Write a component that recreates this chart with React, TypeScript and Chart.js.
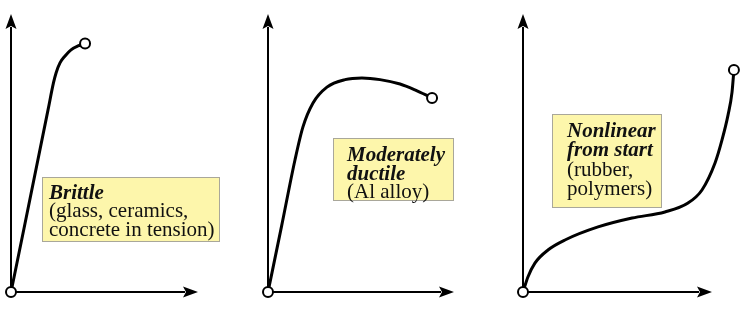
import React, { useEffect, useRef } from "react";
import { Chart, registerables } from "chart.js";

Chart.register(...registerables);

// ---- Data (strain x, stress y; arbitrary units, axis arrows end at 100) ----
const BRITTLE_X = [0, 7.0, 19.8, 22.7, 24.1, 26.2, 28.9, 32.1, 35.8, 39.6];
const BRITTLE_Y = [0, 23.0, 65.5, 75.2, 78.8, 82.4, 84.9, 87.1, 88.5, 89.4];

const DUCTILE_X = [0, 7.3, 14.5, 18.8, 24.2, 31.7, 41.4, 50.5, 60.2, 71.0, 79.0, 88.2];
const DUCTILE_Y = [0, 23.7, 47.5, 59.4, 68.0, 73.7, 76.4, 77.0, 76.4, 74.8, 72.7, 69.8];

const RUBBER_X = [0, 2.6, 6.3, 13.2, 22.2, 39.7, 57.7, 75.1, 87.3, 94.7, 101.6, 105.3, 108.5, 110.6, 111.6];
const RUBBER_Y = [0, 5.4, 10.4, 15.1, 18.7, 23.4, 26.6, 28.8, 32.0, 36.7, 46.4, 54.7, 63.7, 71.9, 79.9];

const BRITTLE_LABEL = [
  { text: "Brittle", strong: true },
  { text: "(glass, ceramics,", strong: false },
  { text: "concrete in tension)", strong: false },
];
const DUCTILE_LABEL = [
  { text: "Moderately", strong: true },
  { text: "ductile", strong: true },
  { text: "(Al alloy)", strong: false },
];
const RUBBER_LABEL = [
  { text: "Nonlinear", strong: true },
  { text: "from start", strong: true },
  { text: "(rubber,", strong: false },
  { text: "polymers)", strong: false },
];

const AXIS_END = 100; // where the axis arrows point, in data units
const X_MAX = 115;
const Y_MAX = 100;

// ---- Layout (pixels) ----
type Box = { x: number; y: number; w: number; h: number; padX: number; first: number; gap: number };
type Panel = {
  left: number;
  width: number;
  originX: number; // y-axis position inside the canvas
  arrowLen: number; // x-axis arrow length in px
  xs: number[];
  ys: number[];
  label: { text: string; strong: boolean }[];
  box: Box;
};

const PANELS: Panel[] = [
  {
    left: 0,
    width: 248,
    originX: 11,
    arrowLen: 187,
    xs: BRITTLE_X,
    ys: BRITTLE_Y,
    label: BRITTLE_LABEL,
    box: { x: 42, y: 177, w: 178, h: 65, padX: 7, first: 22, gap: 18.4 },
  },
  {
    left: 248,
    width: 248,
    originX: 20,
    arrowLen: 186,
    xs: DUCTILE_X,
    ys: DUCTILE_Y,
    label: DUCTILE_LABEL,
    box: { x: 85, y: 138, w: 121, h: 63, padX: 14, first: 23, gap: 18.5 },
  },
  {
    left: 496,
    width: 247,
    originX: 27,
    arrowLen: 189,
    xs: RUBBER_X,
    ys: RUBBER_Y,
    label: RUBBER_LABEL,
    box: { x: 56, y: 114, w: 110, h: 94, padX: 15, first: 23, gap: 19.3 },
  },
];

const FONT = '"Liberation Serif", "Times New Roman", serif';

const axesPlugin = {
  id: "arrowAxes",
  beforeDatasetsDraw(chart: any) {
    const { ctx } = chart;
    const xs = chart.scales.x;
    const ys = chart.scales.y;
    const left = xs.getPixelForValue(0);
    const bottom = ys.getPixelForValue(0);
    const right = xs.getPixelForValue(AXIS_END);
    const top = ys.getPixelForValue(AXIS_END);
    const head = 15;
    const half = 5.5;
    ctx.save();
    ctx.strokeStyle = "#000";
    ctx.fillStyle = "#000";
    ctx.lineWidth = 2;
    ctx.beginPath();
    ctx.moveTo(left, bottom);
    ctx.lineTo(right - head + 2, bottom);
    ctx.moveTo(left, bottom);
    ctx.lineTo(left, top + head - 2);
    ctx.stroke();
    ctx.beginPath();
    ctx.moveTo(right, bottom);
    ctx.lineTo(right - head, bottom - half);
    ctx.lineTo(right - head + 3, bottom);
    ctx.lineTo(right - head, bottom + half);
    ctx.closePath();
    ctx.fill();
    ctx.beginPath();
    ctx.moveTo(left, top);
    ctx.lineTo(left - half, top + head);
    ctx.lineTo(left, top + head - 3);
    ctx.lineTo(left + half, top + head);
    ctx.closePath();
    ctx.fill();
    ctx.restore();
  },
};

const labelPlugin = {
  id: "labelBox",
  afterDatasetsDraw(chart: any, _args: any, opts: any) {
    const box: Box = opts.box;
    const lines = opts.lines as { text: string; strong: boolean }[];
    if (!box || !lines) return;
    const { ctx } = chart;
    ctx.save();
    ctx.fillStyle = "#fdf6ab";
    ctx.fillRect(box.x, box.y, box.w, box.h);
    ctx.strokeStyle = "#a9a79a";
    ctx.lineWidth = 1;
    ctx.strokeRect(box.x + 0.5, box.y + 0.5, box.w - 1, box.h - 1);
    ctx.fillStyle = "#111";
    ctx.textBaseline = "alphabetic";
    ctx.textAlign = "left";
    lines.forEach((ln, i) => {
      ctx.font = (ln.strong ? "italic bold " : "") + "21px " + FONT;
      ctx.fillText(ln.text, box.x + box.padX, box.y + box.first + i * box.gap);
    });
    ctx.restore();
  },
};

function PanelChart({ panel }: { panel: Panel }) {
  const ref = useRef<HTMLCanvasElement | null>(null);
  useEffect(() => {
    if (!ref.current) return;
    const last = panel.xs.length - 1;
    const areaW = (panel.arrowLen * X_MAX) / AXIS_END;
    const pad = {
      left: panel.originX,
      right: panel.width - panel.originX - areaW,
      top: 14,
      bottom: 20,
    };
    const chart = new Chart(ref.current, {
      type: "line",
      data: {
        datasets: [
          {
            data: panel.xs.map((x, i) => ({ x, y: panel.ys[i] })),
            borderColor: "#000",
            borderWidth: 3,
            borderCapStyle: "round",
            borderJoinStyle: "round",
            cubicInterpolationMode: "monotone",
            fill: false,
            clip: false as any,
            pointRadius: (c: any) => (c.dataIndex === 0 || c.dataIndex === last ? 5 : 0),
            pointBackgroundColor: "#fff",
            pointBorderColor: "#000",
            pointBorderWidth: 2,
          } as any,
        ],
      },
      options: {
        animation: false,
        responsive: false,
        events: [],
        layout: { padding: pad, autoPadding: false } as any,
        scales: {
          x: { type: "linear", min: 0, max: X_MAX, display: false },
          y: { type: "linear", min: 0, max: Y_MAX, display: false },
        },
        plugins: {
          legend: { display: false },
          tooltip: { enabled: false },
          labelBox: { box: panel.box, lines: panel.label },
        } as any,
      },
      plugins: [axesPlugin, labelPlugin],
    });
    return () => chart.destroy();
  }, [panel]);
  return (
    <canvas
      ref={ref}
      width={panel.width}
      height={312}
      style={{ position: "absolute", left: panel.left, top: 0, display: "block" }}
    />
  );
}

export default function App() {
  return (
    <div style={{ position: "absolute", left: 0, top: 0, width: 743, height: 312, background: "#fff" }}>
      {PANELS.map((p, i) => (
        <PanelChart key={i} panel={p} />
      ))}
    </div>
  );
}
